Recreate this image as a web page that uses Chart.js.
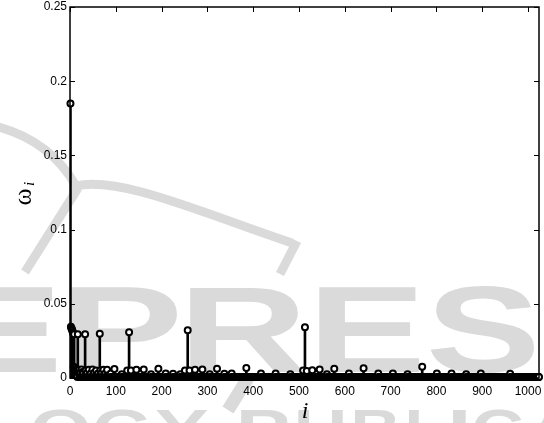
<!DOCTYPE html>
<html>
<head>
<meta charset="utf-8">
<script src="https://cdn.jsdelivr.net/npm/chart.js@4.4.0/dist/chart.umd.min.js"></script>
<style>
  html, body { margin:0; padding:0; background:#fff; }
</style>
</head>
<body>
<canvas id="c" width="544" height="423"></canvas>
<script>
// coefficients, x is the index i (1..1024)
const peakIdx = [1, 2, 3, 4, 5, 6, 7, 9, 17, 33, 65, 129, 257, 513];
const peakVal = [0.185, 0.0345, 0.0335, 0.033, 0.032, 0.031, 0.030, 0.0295, 0.0295, 0.0295, 0.0298, 0.0308, 0.0322, 0.0342];

const midIdx = [8, 10, 11, 12, 13, 14, 15, 18, 20, 25, 34, 41, 49, 57, 66, 73, 81, 97, 125, 133, 145, 161, 193,
                251, 261, 273, 289, 321, 385, 509, 517, 529, 545, 577, 641, 769];
const midVal = [0.0075, 0.007, 0.006, 0.0055, 0.005, 0.0055, 0.005, 0.005, 0.0055, 0.0058, 0.005, 0.0055, 0.0058, 0.005,
                0.005, 0.0055, 0.0055, 0.006, 0.005, 0.005, 0.0055, 0.0058, 0.0063, 0.005, 0.005, 0.0055, 0.0058, 0.0063,
                0.0068, 0.005, 0.0048, 0.0052, 0.0058, 0.0062, 0.0066, 0.0076];

const lowIdx = [19, 22, 27, 29, 37, 45, 53, 61, 69, 77, 89, 113, 177, 209, 225, 241, 305, 337, 353, 417,
                449, 481, 561, 609, 673, 705, 737, 801, 833, 865, 897, 961];
const lowVal = [0.004, 0.0035, 0.004, 0.003, 0.0035, 0.003, 0.0035, 0.003, 0.0035, 0.003, 0.003, 0.0025, 0.0025, 0.003,
                0.0028, 0.0025, 0.0025, 0.0028, 0.003, 0.003, 0.003, 0.0025, 0.0025, 0.003, 0.003, 0.003, 0.0025, 0.003,
                0.003, 0.0025, 0.003, 0.0028];

// the rest of the 1024 coefficients are too small to read, they form the black band at zero
const nCoef = 1024;
const floorLevel = 0.0006;

const xTickVals = [0, 100, 200, 300, 400, 500, 600, 700, 800, 900, 1000];
const xTickLabels = ['0', '100', '200', '300', '400', '500', '600', '700', '800', '900', '1000'];
const yTickVals = [0, 0.05, 0.1, 0.15, 0.2, 0.25];
const yTickLabels = ['0', '0.05', '0.1', '0.15', '0.2', '0.25'];

const known = new Map();
[[lowIdx, lowVal], [midIdx, midVal], [peakIdx, peakVal]].forEach(([ix, vs]) => ix.forEach((i, k) => known.set(i, vs[k])));
const pts = [];
for (let i = 1; i <= nCoef; i++) pts.push({ x: i, y: known.has(i) ? known.get(i) : floorLevel });

const SANS = '"Liberation Sans", Arial, Helvetica, sans-serif';
const SERIF = '"Liberation Serif", "Times New Roman", serif';
const WM = 'rgb(218,218,218)';

function wmLetter(ctx, ch, x0, x1, base, size) {
  ctx.font = 'bold ' + size + 'px ' + SANS;
  const m = ctx.measureText(ch);
  const w = m.actualBoundingBoxLeft + m.actualBoundingBoxRight;
  ctx.save();
  ctx.translate(x0, base);
  ctx.scale((x1 - x0) / w, 1);
  ctx.fillText(ch, m.actualBoundingBoxLeft, 0);
  ctx.restore();
}

// faint publisher watermark behind the plot
const watermark = {
  id: 'watermark',
  beforeDraw(chart) {
    const ctx = chart.ctx;
    ctx.save();
    ctx.fillStyle = WM;
    ctx.strokeStyle = WM;
    ctx.textAlign = 'left';
    ctx.textBaseline = 'alphabetic';
    [['E', -50, 57], ['P', 71, 177], ['R', 190, 305], ['E', 319, 420], ['S', 430, 535], ['S', 548, 650]]
      .forEach(([ch, a, b]) => wmLetter(ctx, ch, a, b, 372, 123));
    [['L', -25, 19], ['O', 33, 89], ['G', 95, 149], ['Y', 155, 208], ['P', 240, 288], ['U', 298, 344],
     ['B', 354, 398], ['L', 408, 444], ['I', 452, 466], ['C', 474, 522], ['A', 528, 580], ['T', 584, 630],
     ['I', 638, 652], ['O', 660, 712], ['N', 720, 766]]
      .forEach(([ch, a, b]) => wmLetter(ctx, ch, a, b, 448, 56));
    ctx.lineWidth = 9;
    ctx.beginPath();
    ctx.moveTo(-5, 126);
    ctx.quadraticCurveTo(50, 140, 76, 186);
    ctx.bezierCurveTo(120, 176, 200, 212, 292, 243);
    ctx.stroke();
    ctx.beginPath();
    ctx.moveTo(78, 188);
    ctx.lineTo(25, 272);
    ctx.stroke();
    ctx.beginPath();
    ctx.moveTo(297, 241);
    ctx.lineTo(280, 274);
    ctx.stroke();
    ctx.lineWidth = 13;
    ctx.beginPath();
    ctx.moveTo(248, 378);
    ctx.lineTo(228, 410);
    ctx.stroke();
    ctx.restore();
  }
};

// box round the axes with inward ticks on all four sides, plus the axis titles
const frame = {
  id: 'frame',
  afterDraw(chart) {
    const ctx = chart.ctx, a = chart.chartArea;
    const xs = chart.scales.x, ys = chart.scales.y;
    const tl = 5;
    ctx.save();
    ctx.strokeStyle = '#000';
    ctx.lineWidth = 1.5;
    ctx.strokeRect(a.left, a.top, a.right - a.left, a.bottom - a.top);
    ctx.lineWidth = 1;
    ctx.beginPath();
    xTickVals.forEach(v => {
      const px = Math.round(xs.getPixelForValue(v)) + 0.5;
      ctx.moveTo(px, a.bottom); ctx.lineTo(px, a.bottom - tl);
      ctx.moveTo(px, a.top); ctx.lineTo(px, a.top + tl);
    });
    yTickVals.forEach(v => {
      const py = Math.round(ys.getPixelForValue(v)) + 0.5;
      ctx.moveTo(a.left, py); ctx.lineTo(a.left + tl, py);
      ctx.moveTo(a.right, py); ctx.lineTo(a.right - tl, py);
    });
    ctx.stroke();

    ctx.fillStyle = '#000';
    ctx.textAlign = 'center';
    ctx.textBaseline = 'alphabetic';
    ctx.font = 'italic 24px ' + SERIF;
    ctx.fillText('i', 305, 418);

    ctx.translate(24, 197);
    ctx.rotate(-Math.PI / 2);
    ctx.textBaseline = 'middle';
    ctx.font = '26px ' + SERIF;
    ctx.fillText('ω', 0, 0);
    ctx.font = 'italic 15px ' + SERIF;
    ctx.fillText('i', 13, 6);
    ctx.restore();
  }
};

new Chart(document.getElementById('c'), {
  type: 'scatter',
  data: {
    datasets: [
      {
        type: 'scatter',
        data: pts,
        order: 1,
        clip: false,
        showLine: false,
        pointRadius: 3,
        pointHoverRadius: 3,
        pointBorderWidth: 2,
        pointBorderColor: '#000',
        pointBackgroundColor: '#fff'
      },
      {
        type: 'bar',
        data: pts,
        order: 2,
        barThickness: 2,
        backgroundColor: '#000',
        borderWidth: 0
      }
    ]
  },
  options: {
    responsive: false,
    animation: false,
    events: [],
    layout: { padding: { top: 7, right: 2, left: 0, bottom: 0 } },
    plugins: { legend: { display: false }, tooltip: { enabled: false } },
    scales: {
      x: {
        type: 'linear',
        min: 0,
        max: 1024,
        offset: false,
        afterBuildTicks: s => { s.ticks = xTickVals.map(v => ({ value: v })); },
        afterFit: s => { s.height = 45; s.paddingLeft = 0; s.paddingRight = 0; },
        grid: { display: false, drawTicks: false, offset: false },
        border: { display: false },
        ticks: {
          autoSkip: false, maxRotation: 0, padding: 6, color: '#000',
          font: { family: SANS, size: 12 },
          callback: v => xTickLabels[xTickVals.indexOf(v)]
        }
      },
      y: {
        type: 'linear',
        min: 0,
        max: 0.25,
        afterBuildTicks: s => { s.ticks = yTickVals.map(v => ({ value: v })); },
        afterFit: s => { s.width = 70; s.paddingTop = 0; s.paddingBottom = 0; },
        grid: { display: false, drawTicks: false },
        border: { display: false },
        ticks: {
          padding: 3, color: '#000',
          font: { family: SANS, size: 12 },
          callback: v => yTickLabels[yTickVals.indexOf(v)]
        }
      }
    }
  },
  plugins: [watermark, frame]
});
</script>
</body>
</html>
